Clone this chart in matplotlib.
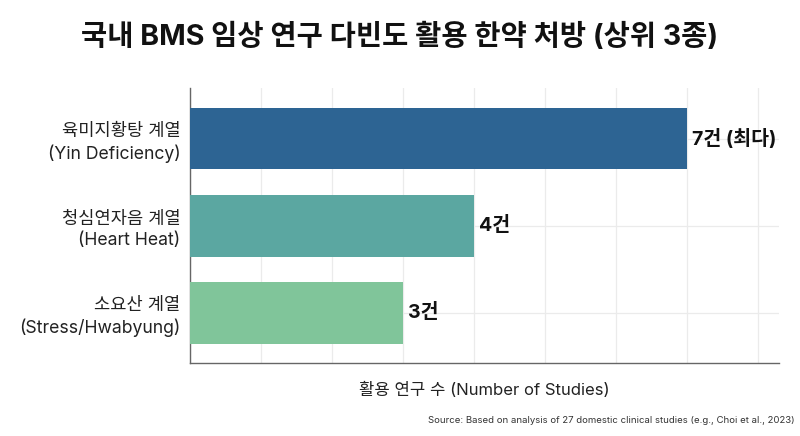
import matplotlib
matplotlib.use('Agg')
import matplotlib.pyplot as plt

plt.rcParams['font.family'] = ['Inter', 'Noto Sans CJK KR', 'DejaVu Sans']

categories = ['육미지황탕 계열\n(Yin Deficiency)', '청심연자음 계열\n(Heart Heat)', '소요산 계열\n(Stress/Hwabyung)']
values = [7, 4, 3]
value_labels = ['7건 (최다)', '4건', '3건']
colors = ['#2d6493', '#5ba7a1', '#80c59a']

fig = plt.figure(figsize=(8, 4.36), dpi=100)
ax = fig.add_axes([0.2375, 0.167, 0.736, 0.631])

ypos = [2, 1, 0]
bars = ax.barh(ypos, values, height=0.71, color=colors, zorder=3)

for b, lab in zip(bars, value_labels):
    ax.text(b.get_width() + 0.07, b.get_y() + b.get_height() / 2, lab,
            ha='left', va='center', fontsize=14, fontweight='bold', color='#111111', zorder=4)

ax.set_xlim(0, 8.3)
ax.set_ylim(-0.58, 2.58)
ax.set_xticks(range(0, 9))
ax.set_xticklabels([])
ax.set_yticks(ypos)
ax.set_yticklabels(categories, fontsize=12.7, color='#222222', linespacing=1.3)
ax.tick_params(axis='both', length=0)
ax.tick_params(axis='y', pad=7)
ax.grid(True, color='#ebebeb', linewidth=0.9, zorder=0)
for s in ['top', 'right']:
    ax.spines[s].set_visible(False)
for s in ['left', 'bottom']:
    ax.spines[s].set_color('#666666')
    ax.spines[s].set_linewidth(1.0)

ax.set_xlabel('활용 연구 수 (Number of Studies)', fontsize=12, color='#222222', labelpad=10)

fig.text(0.5, 0.915, '국내 BMS 임상 연구 다빈도 활용 한약 처방 (상위 3종)',
         ha='center', va='center', fontsize=20.5, fontweight='bold', color='#111111')
fig.text(0.993, 0.035, 'Source: Based on analysis of 27 domestic clinical studies (e.g., Choi et al., 2023)',
         ha='right', va='center', fontsize=6.9, color='#333333')

fig.savefig('out.png', dpi=100, facecolor='white')
